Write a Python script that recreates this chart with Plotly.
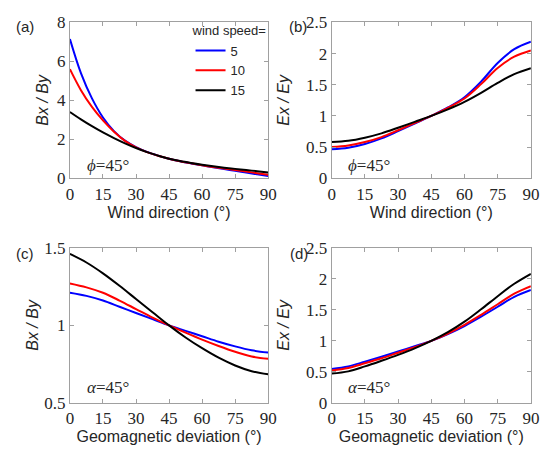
import plotly.graph_objects as go

# ---------------- data ----------------
speeds = ["5", "10", "15"]
colors = ["#0000FF", "#FF0000", "#000000"]

# (a) Bx/By vs wind direction
wd_a = [0, 5, 10, 15, 20, 25, 30, 35, 40, 45, 50, 55, 60, 65, 70, 75, 80, 85, 90]
a_5 = [7.15, 5.4, 4.1, 3.12, 2.42, 1.93, 1.6, 1.35, 1.16, 1.0, 0.87, 0.76, 0.66, 0.56, 0.47, 0.38, 0.29, 0.2, 0.11]
a_10 = [5.6, 4.52, 3.66, 2.97, 2.39, 1.92, 1.58, 1.34, 1.155, 1.0, 0.875, 0.77, 0.67, 0.58, 0.5, 0.42, 0.34, 0.26, 0.18]
a_15 = [3.4, 3.02, 2.67, 2.35, 2.06, 1.79, 1.55, 1.34, 1.16, 1.0, 0.88, 0.78, 0.69, 0.61, 0.54, 0.48, 0.42, 0.36, 0.3]

# (b) Ex/Ey vs wind direction
wd_b = [0, 7.5, 15, 22.5, 30, 37.5, 45, 52.5, 60, 67.5, 75, 82.5, 90]
b_5 = [0.465, 0.49, 0.55, 0.64, 0.755, 0.875, 1.0, 1.135, 1.30, 1.55, 1.85, 2.07, 2.19]
b_10 = [0.50, 0.525, 0.58, 0.66, 0.77, 0.885, 1.0, 1.13, 1.28, 1.51, 1.77, 1.95, 2.05]
b_15 = [0.58, 0.60, 0.65, 0.72, 0.81, 0.905, 1.0, 1.105, 1.225, 1.37, 1.53, 1.67, 1.765]

# (c) Bx/By vs geomagnetic deviation
gd = [0, 7.5, 15, 22.5, 30, 37.5, 45, 52.5, 60, 67.5, 75, 82.5, 90]
c_5 = [1.21, 1.19, 1.16, 1.12, 1.08, 1.04, 1.0, 0.965, 0.93, 0.895, 0.865, 0.84, 0.825]
c_10 = [1.27, 1.245, 1.21, 1.16, 1.105, 1.05, 1.0, 0.953, 0.908, 0.867, 0.83, 0.80, 0.785]
c_15 = [1.46, 1.405, 1.335, 1.255, 1.17, 1.085, 1.0, 0.922, 0.853, 0.792, 0.742, 0.705, 0.685]

# (d) Ex/Ey vs geomagnetic deviation
d_5 = [0.55, 0.59, 0.665, 0.745, 0.83, 0.915, 1.0, 1.11, 1.24, 1.39, 1.55, 1.71, 1.82]
d_10 = [0.525, 0.565, 0.64, 0.72, 0.81, 0.90, 1.0, 1.12, 1.26, 1.42, 1.59, 1.76, 1.88]
d_15 = [0.475, 0.51, 0.59, 0.68, 0.775, 0.88, 1.0, 1.14, 1.31, 1.51, 1.72, 1.92, 2.08]

x_ticks = [0, 15, 30, 45, 60, 75, 90]
panel_labels = ["(a)", "(b)", "(c)", "(d)"]

# ---------------- figure ----------------
W, H = 556, 461
fig = go.Figure()

panels = [
    ("x", "y", wd_a, [a_5, a_10, a_15]),
    ("x2", "y2", wd_b, [b_5, b_10, b_15]),
    ("x3", "y3", gd, [c_5, c_10, c_15]),
    ("x4", "y4", gd, [d_5, d_10, d_15]),
]
for pi, (xa, ya, xs, series) in enumerate(panels):
    for si, ys in enumerate(series):
        fig.add_trace(go.Scatter(
            x=xs, y=ys, mode="lines", xaxis=xa, yaxis=ya,
            line=dict(color=colors[si], width=2, shape="spline", smoothing=1.0),
            name=speeds[si], legendgroup=speeds[si], showlegend=(pi == 0),
        ))

def px_x(a, b):
    return [a / W, b / W]

def px_y(top, bottom):
    return [1 - bottom / H, 1 - top / H]

SERIF = "Liberation Serif"
SANS = "Liberation Sans"
axis_col = "#A0A0A0"
tick_font = dict(family=SERIF, size=17, color="#262626")
title_font = dict(family=SANS, size=16, color="#262626")

def xaxis(dom, anchor, title):
    return dict(domain=dom, anchor=anchor, range=[0, 90], tickvals=x_ticks,
                ticks="inside", ticklen=4, tickcolor=axis_col, showline=True,
                linecolor=axis_col, linewidth=1, mirror="ticks", showgrid=False,
                zeroline=False, tickfont=tick_font,
                title=dict(text=title, font=title_font, standoff=2))

def yaxis(dom, anchor, rng, dtick, title, standoff):
    return dict(domain=dom, anchor=anchor, range=rng, dtick=dtick, tick0=0,
                ticks="inside", ticklen=4, tickcolor=axis_col, showline=True,
                linecolor=axis_col, linewidth=1, mirror="ticks", showgrid=False,
                zeroline=False, tickfont=tick_font,
                title=dict(text=title, font=title_font, standoff=standoff))

xl = px_x(67.5, 270.5)
xr = px_x(335.5, 539.5)
yt = px_y(14, 176.5)
yb = px_y(249, 411)

fig.update_layout(
    width=W, height=H,
    margin=dict(l=0, r=0, t=0, b=0),
    paper_bgcolor="white", plot_bgcolor="white",
    font=dict(family=SERIF),
    xaxis=xaxis(xl, "y", "Wind direction (°)"),
    yaxis=yaxis(yt, "x", [0, 8], 2, "<i>Bx / By</i>", 4),
    xaxis2=xaxis(xr, "y2", "Wind direction (°)"),
    yaxis2=yaxis(yt, "x2", [0, 2.5], 0.5, "<i>Ex / Ey</i>", 12),
    xaxis3=xaxis(xl, "y3", "Geomagnetic deviation (°)"),
    yaxis3=yaxis(yb, "x3", [0.5, 1.5], 0.5, "<i>Bx / By</i>", 1),
    xaxis4=xaxis(xr, "y4", "Geomagnetic deviation (°)"),
    yaxis4=yaxis(yb, "x4", [0, 2.5], 0.5, "<i>Ex / Ey</i>", 12),
    showlegend=True,
    legend=dict(
        x=191 / W, y=1 - 10 / H, xanchor="left", yanchor="top",
        bgcolor="rgba(0,0,0,0)", borderwidth=0,
        font=dict(family=SANS, size=13, color="#262626"),
        title=dict(text="wind speed=", font=dict(family=SANS, size=13, color="#262626")),
        tracegroupgap=0,
    ),
)

# panel letters
letter_pos = [(22, 18), (301, 18), (22, 255), (302, 255)]
for lab, (lx, ly) in zip(panel_labels, letter_pos):
    fig.add_annotation(text=lab, x=lx / W, y=1 - ly / H, xref="paper", yref="paper",
                       showarrow=False, xanchor="center", yanchor="middle",
                       font=dict(family=SANS, size=15, color="#262626"))

# angle notes
notes = [("<i>ϕ</i>=45°", "x", 163), ("<i>ϕ</i>=45°", "x2", 163),
         ("<i>α</i>=45°", "x3", 395), ("<i>α</i>=45°", "x4", 395)]
for txt, xa, yy in notes:
    dom_x = xl if xa in ("x", "x3") else xr
    fig.add_annotation(text=txt, x=dom_x[0] + 15 / W, y=1 - yy / H, xref="paper", yref="paper",
                       showarrow=False, xanchor="left", yanchor="middle",
                       font=dict(family=SERIF, size=17, color="#262626"))

fig.write_html("out.html")
